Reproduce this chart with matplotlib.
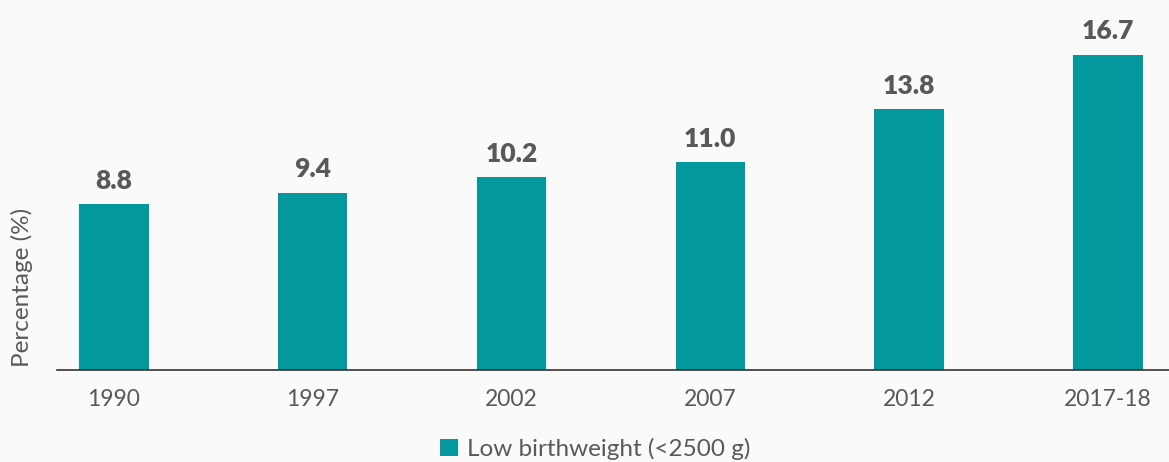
import matplotlib
matplotlib.use("Agg")
from matplotlib import pyplot as plt
from matplotlib.patches import Patch

years = ["1990", "1997", "2002", "2007", "2012", "2017-18"]
low_bw = [8.8, 9.4, 10.2, 11.0, 13.8, 16.7]
series_name = "Low birthweight (<2500 g)"

teal = "#03989e"
grey = "#595959"
bg = "#fafafa"

plt.rcParams["font.family"] = ["Lato", "DejaVu Sans"]

fig = plt.figure(figsize=(11.69, 4.62), dpi=100, facecolor=bg)
ax = fig.add_axes([57 / 1169, 92 / 462, 1112 / 1169, 370 / 462])
ax.set_facecolor(bg)

x = range(len(years))
bars = ax.bar(x, low_bw, width=0.35, color=teal)

for b, v in zip(bars, low_bw):
    ax.text(b.get_x() + b.get_width() / 2, v + 0.6, f"{v:.1f}",
            ha="center", va="bottom", fontsize=19, fontweight="heavy", color=grey)

ax.set_xlim(-0.286, 5.307)
ax.set_ylim(0, 19.6)
ax.set_xticks(list(x))
ax.set_xticklabels(years, fontsize=16.5, color=grey)
ax.tick_params(axis="x", length=0, pad=14)
ax.set_yticks([])
for s in ["top", "right", "left"]:
    ax.spines[s].set_visible(False)
ax.spines["bottom"].set_color("#333333")
ax.spines["bottom"].set_linewidth(1.2)

fig.text(22 / 1169, 1 - 287 / 462, "Percentage (%)", rotation=90,
         ha="center", va="center", fontsize=17.5, color=grey)

handle = Patch(facecolor=teal, edgecolor="none")
fig.legend([handle], [series_name], loc="center", bbox_to_anchor=(595 / 1169, 1 - 449 / 462),
           frameon=False, fontsize=17.5, labelcolor=grey, handlelength=0.75,
           handleheight=0.75, handletextpad=0.35)

fig.savefig("out.png", dpi=100, facecolor=bg)
